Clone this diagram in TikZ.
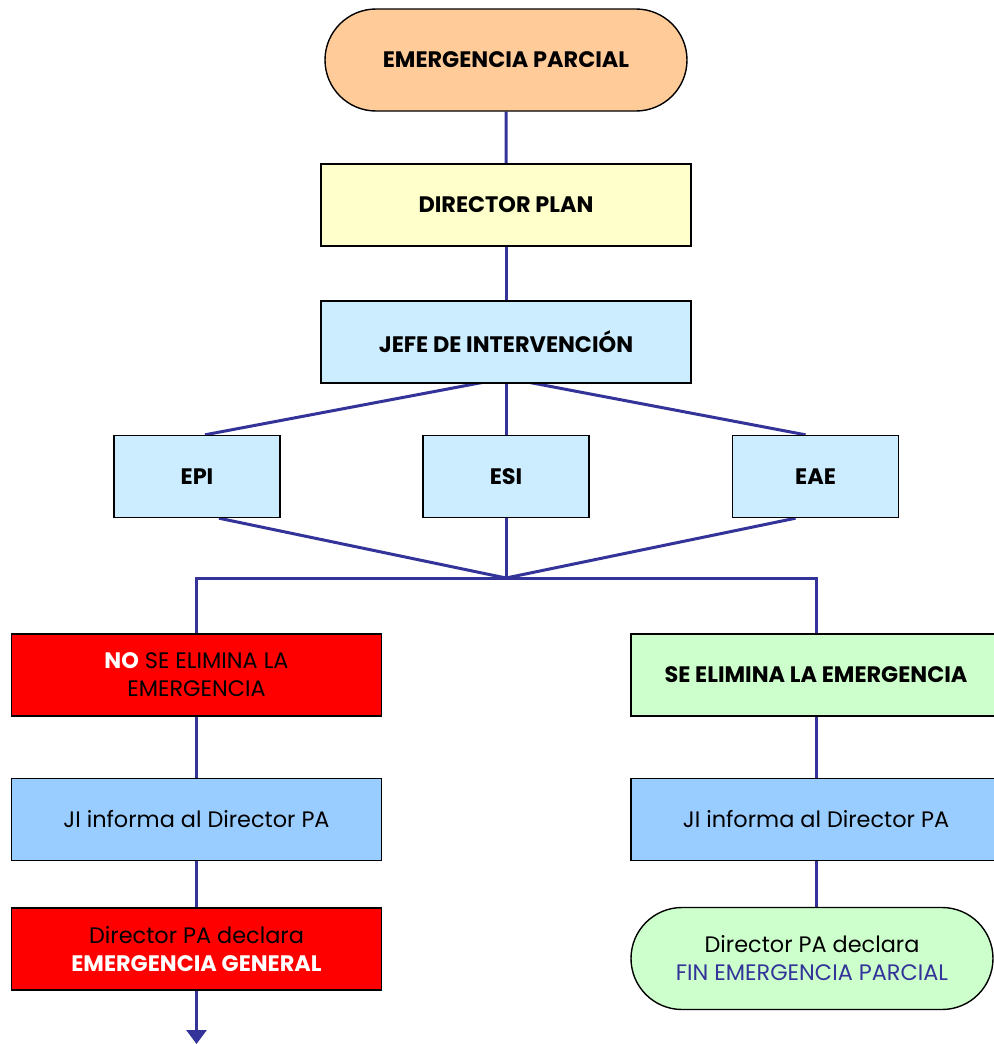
\documentclass[tikz,border=0pt]{standalone}
\usepackage{fontspec}
\setmainfont{Poppins}
\usepackage{xcolor}
\usetikzlibrary{shapes.misc,arrows.meta,backgrounds}

\definecolor{naranja}{HTML}{FFCC99}
\definecolor{amarillo}{HTML}{FFFFCC}
\definecolor{celeste}{HTML}{CCECFF}
\definecolor{azulclaro}{HTML}{99CCFF}
\definecolor{rojo}{HTML}{FF0000}
\definecolor{verde}{HTML}{CCFFCC}
\definecolor{linea}{HTML}{333399}

\begin{document}
\begin{tikzpicture}[
    x=0.5pt, y=-0.5pt,
    caja/.style={rectangle, draw=black, line width=0.7pt, align=center, inner sep=2pt, font=\fontsize{11.2}{14}\selectfont},
    terminal/.style={rounded rectangle, draw=black, line width=0.7pt, align=center, inner sep=2pt, font=\fontsize{11.2}{14}\selectfont},
    ancha/.style={minimum width=185pt, minimum height=41pt},
    corta/.style={minimum width=83pt, minimum height=41pt},
    enlace/.style={draw=linea, line width=1.5pt},
]
\useasboundingbox (0,0) rectangle (994,1044);

% Top of the chart
\node[terminal, fill=naranja, minimum width=185pt, minimum height=51pt] (parcial) at (506,60) {\bfseries EMERGENCIA PARCIAL};
\node[caja, ancha, fill=amarillo] (director) at (506,205) {\bfseries DIRECTOR PLAN};
\node[caja, ancha, fill=celeste] (jefe) at (506,342) {\bfseries JEFE DE INTERVENCIÓN};

% Teams
\node[caja, corta, fill=celeste] (epi) at (197,476.5) {\bfseries EPI};
\node[caja, corta, fill=celeste] (esi) at (506,476.5) {\bfseries ESI};
\node[caja, corta, fill=celeste] (eae) at (815.5,476.5) {\bfseries EAE};

% Left branch
\node[caja, ancha, fill=rojo] (noelim) at (196.5,675) {{\bfseries\color{white}NO} SE ELIMINA LA\\EMERGENCIA};
\node[caja, ancha, fill=azulclaro] (jiizq) at (196.5,819.5) {JI informa al Director PA};
\node[caja, ancha, fill=rojo] (general) at (196.5,949) {Director PA declara\\{\bfseries\color{white}EMERGENCIA GENERAL}};

% Right branch
\node[caja, ancha, fill=verde] (elim) at (816,675) {\bfseries SE ELIMINA LA EMERGENCIA};
\node[caja, ancha, fill=azulclaro] (jider) at (816,819.5) {JI informa al Director PA};
\node[terminal, fill=verde, minimum width=185pt, minimum height=51pt] (fin) at (812,958.5) {Director PA declara\\{\color{linea}FIN EMERGENCIA PARCIAL}};

% Connectors (behind the boxes)
\coordinate (reparto) at (506,378);
\coordinate (union) at (506,578);
\coordinate (salida) at (196.5,1044);

\begin{scope}[on background layer]
\draw[enlace] (parcial) -- (director);
\draw[enlace] (director) -- (jefe);
\draw[enlace] (reparto) -- ([xshift=4pt]epi.north);
\draw[enlace] (jefe) -- (esi);
\draw[enlace] (reparto) -- ([xshift=-5pt]eae.north);
\draw[enlace] ([xshift=11pt]epi.south) -- (union);
\draw[enlace] (esi) -- (union);
\draw[enlace] ([xshift=-10pt]eae.south) -- (union);
\draw[enlace] (noelim.north) |- (union) -| (elim.north);
\draw[enlace] (noelim) -- (jiizq);
\draw[enlace] (jiizq) -- (general);
\draw[enlace] (elim) -- (jider);
\draw[enlace] (jider.south) -- (jider.south |- fin.north);
\draw[enlace, -{Triangle[width=10pt, length=7pt]}] (general) -- (salida);
\end{scope}

\end{tikzpicture}
\end{document}
